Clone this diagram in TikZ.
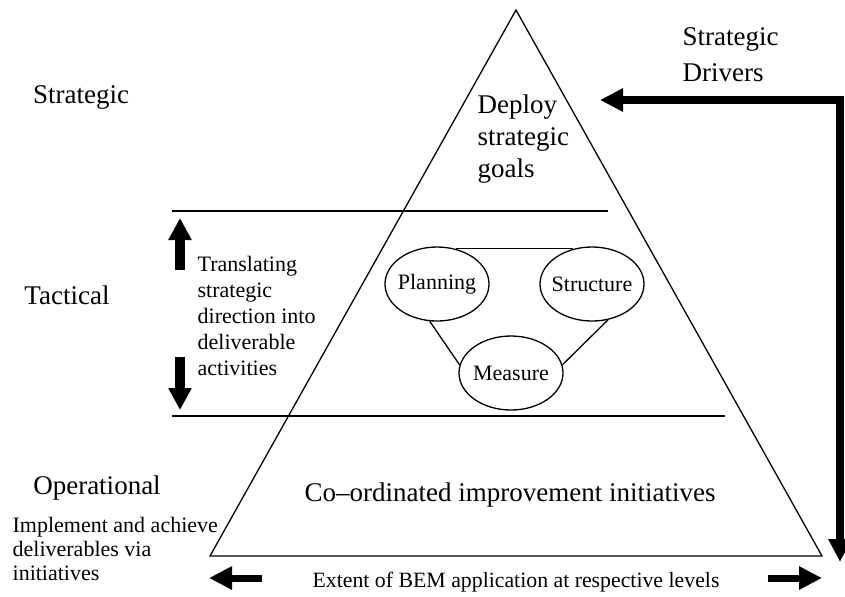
\documentclass[tikz,border=0pt]{standalone}
\usepackage{fontspec}
\setmainfont{Liberation Serif}
\usetikzlibrary{arrows.meta,positioning,shapes.geometric}

\begin{document}
\begin{tikzpicture}[x=0.5pt, y=-0.5pt, line width=0.65pt,
    level/.style={font=\fontsize{13.5}{16}\selectfont, inner sep=0pt},
    note/.style={font=\fontsize{11}{13}\selectfont, align=left, anchor=west, inner sep=0pt},
    pillar/.style={draw, ellipse, inner sep=-4pt, minimum width=52pt,
        minimum height=37pt, font=\fontsize{11}{13}\selectfont},
    fat/.style={-{Triangle[length=11pt,width=11pt]}, line width=5pt},
    flat/.style={-{Triangle[length=11.5pt,width=11pt]}, line width=3.5pt}]
\useasboundingbox (0,0) rectangle (845,596);

% pyramid and the two level boundaries
\coordinate (apex) at (516,10);
\coordinate (bl) at (210,556);
\coordinate (br) at (822,556);
\draw (apex) -- (bl) -- (br) -- cycle;
\draw (172,211) -- (608,211);
\draw (172,416) -- (725,416);

% level names on the left
\node[level] (strat) at (81,97) {Strategic};
\node[level] (tact) at (67,295) {Tactical};
\node[level] (oper) at (97,488) {Operational};
\node[note, font=\fontsize{11}{12}\selectfont] (impl) at (12,549)
    {Implement and achieve\\deliverables via\\initiatives};

% inside the pyramid
\node[level, align=left, anchor=west, font=\fontsize{13.5}{16}\selectfont] (deploy) at (477,139)
    {Deploy\\strategic\\goals};
\node[level] (coord) at (510,495) {Co--ordinated improvement initiatives};

\node[pillar] (plan) at (437,284) {Planning};
\node[pillar] (struc) at (592,284) {Structure};
\node[pillar] (meas) at (511,373) {Measure};
\draw (plan.62) -- (struc.118);
\draw (plan.259) -- (meas.171);
\draw (struc.294) -- (meas.9);

% tactical band
\node[note] (transl) at (197,316)
    {Translating\\strategic\\direction into\\deliverable\\activities};
\coordinate (upfrom) at (180,270);
\coordinate (upto) at (180,218);
\coordinate (dnfrom) at (180,357);
\coordinate (dnto) at (180,410);
\draw[fat] (upfrom) -- (upto);
\draw[fat] (dnfrom) -- (dnto);

% strategic drivers feedback
\node[level, align=left, anchor=west, font=\fontsize{13.5}{18}\selectfont] (drivers) at (682,55)
    {Strategic\\Drivers};
\coordinate (drvin) at (600,100);
\coordinate (drvout) at (840,562);
\draw[{Triangle[length=11.5pt,width=11pt]}-{Triangle[length=11.5pt,width=11pt]}, line width=4pt]
    (drvin) -| (drvout);

% extent along the base
\node[font=\fontsize{10.9}{13}\selectfont, inner sep=0pt] (extent) at (516,582)
    {Extent of BEM application at respective levels};
\coordinate (lfrom) at (262,578);
\coordinate (lto) at (209,578);
\coordinate (rfrom) at (768,578);
\coordinate (rto) at (822,578);
\draw[flat] (lfrom) -- (lto);
\draw[flat] (rfrom) -- (rto);
\end{tikzpicture}
\end{document}
